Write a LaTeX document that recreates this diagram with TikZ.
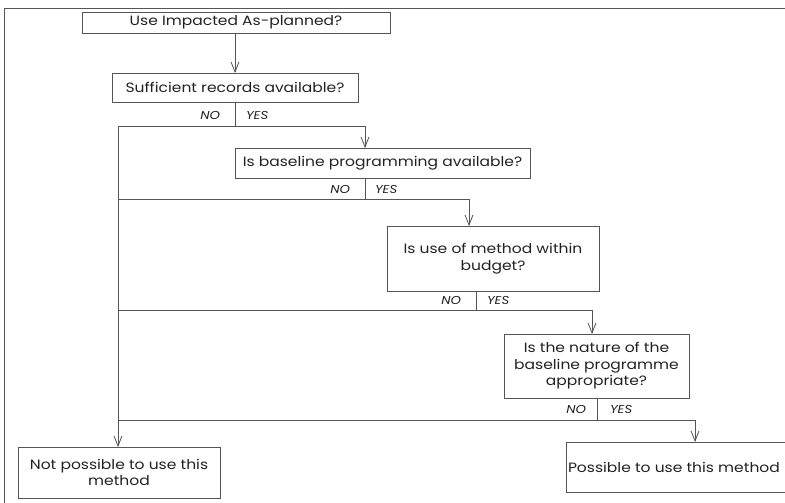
\documentclass[tikz,border=0pt]{standalone}
\usepackage{fontspec}
\setmainfont{Poppins}[FakeStretch=1.15]
\usetikzlibrary{arrows.meta}
\definecolor{linegray}{HTML}{555555}
\definecolor{inkgray}{HTML}{222222}
\begin{document}
\begin{tikzpicture}[x=1pt,y=-1pt,
  every node/.style={inner sep=0pt,outer sep=0pt},
  qfont/.style={font=\fontsize{13.5}{16.5}\selectfont},
  qbox/.style={draw=linegray,line width=0.9pt,text=inkgray,qfont,align=center},
  flow/.style={draw=linegray,line width=0.9pt},
  arrowflow/.style={flow,-{Straight Barb[length=10pt,width=8pt,line width=0.8pt]}},
  ans/.style={text=inkgray,font=\fontsize{11.5}{13}\selectfont\itshape},
]
\useasboundingbox (0,0) rectangle (785,503);
\begin{scope}
\clip (0,0) rectangle (785,503);

% outer frame (left and top edges)
\draw[flow] (4,503) -- (4,8) -- (790,8);

% question boxes
\node[qbox,minimum width=308pt,minimum height=21pt] (q1) at (236,22.5) {Use Impacted As-planned?};
\node[qbox,minimum width=246pt,minimum height=29pt] (q2) at (235,87.5) {Sufficient records available?};
\node[qbox,minimum width=295pt,minimum height=30pt] (q3) at (382.5,163) {Is baseline programming available?};
\node[qbox,minimum width=212pt,minimum height=65pt] (q4) at (493,258.5) {Is use of method within\\budget?};
\node[qbox,minimum width=185pt,minimum height=64pt] (q5) at (596.5,366) {Is the nature of the\\baseline programme\\appropriate?};

% outcome boxes
\node[qbox,minimum width=202pt,minimum height=51pt] (no) at (119,472.5) {Not possible to use this\\method};
\node[qbox,minimum width=240pt,minimum height=50pt,anchor=west] (yes) at (566,467) {};
\node[text=inkgray,qfont,anchor=west] (yestext) at (568,467) {Possible to use this method};

% junction points of the branches
\coordinate (j1) at (235,126);
\coordinate (j2) at (365,199);
\coordinate (j3) at (476,310);
\coordinate (j4) at (597,420);
\coordinate (t1) at (118,126);
\coordinate (t2) at (118,199);
\coordinate (t3) at (118,310);
\coordinate (t4) at (118,420);

% connectors
\draw[arrowflow] (q1.south -| j1) -- (q2.north -| j1);
\draw[flow] (q2.south -| j1) -- (j1);
\draw[flow] (t1) -- (j1);
\draw[arrowflow] (j1) -- (365,126) -- (q3.north -| 365,0);
\draw[flow] (q3.south -| j2) -- (j2);
\draw[arrowflow] (t2) -- (469,199) -- (q4.north -| 469,0);
\draw[flow] (q4.south -| j3) -- (j3);
\draw[arrowflow] (t3) -- (592,310) -- (q5.north -| 592,0);
\draw[flow] (q5.south -| j4) -- (j4);
\draw[arrowflow] (t4) -- (695,420) -- (yes.north -| 695,0);
\draw[arrowflow] (t1) -- (no.north -| t1);

% NO / YES labels
\node[ans,anchor=east] (n1) at (220,115) {NO};
\node[ans,anchor=west] (y1) at (246,115) {YES};
\node[ans,anchor=east] (n2) at (350,189) {NO};
\node[ans,anchor=west] (y2) at (375,189) {YES};
\node[ans,anchor=east] (n3) at (461,300) {NO};
\node[ans,anchor=west] (y3) at (487,300) {YES};
\node[ans,anchor=east] (n4) at (586,409) {NO};
\node[ans,anchor=west] (y4) at (610,409) {YES};
\end{scope}
\end{tikzpicture}
\end{document}
